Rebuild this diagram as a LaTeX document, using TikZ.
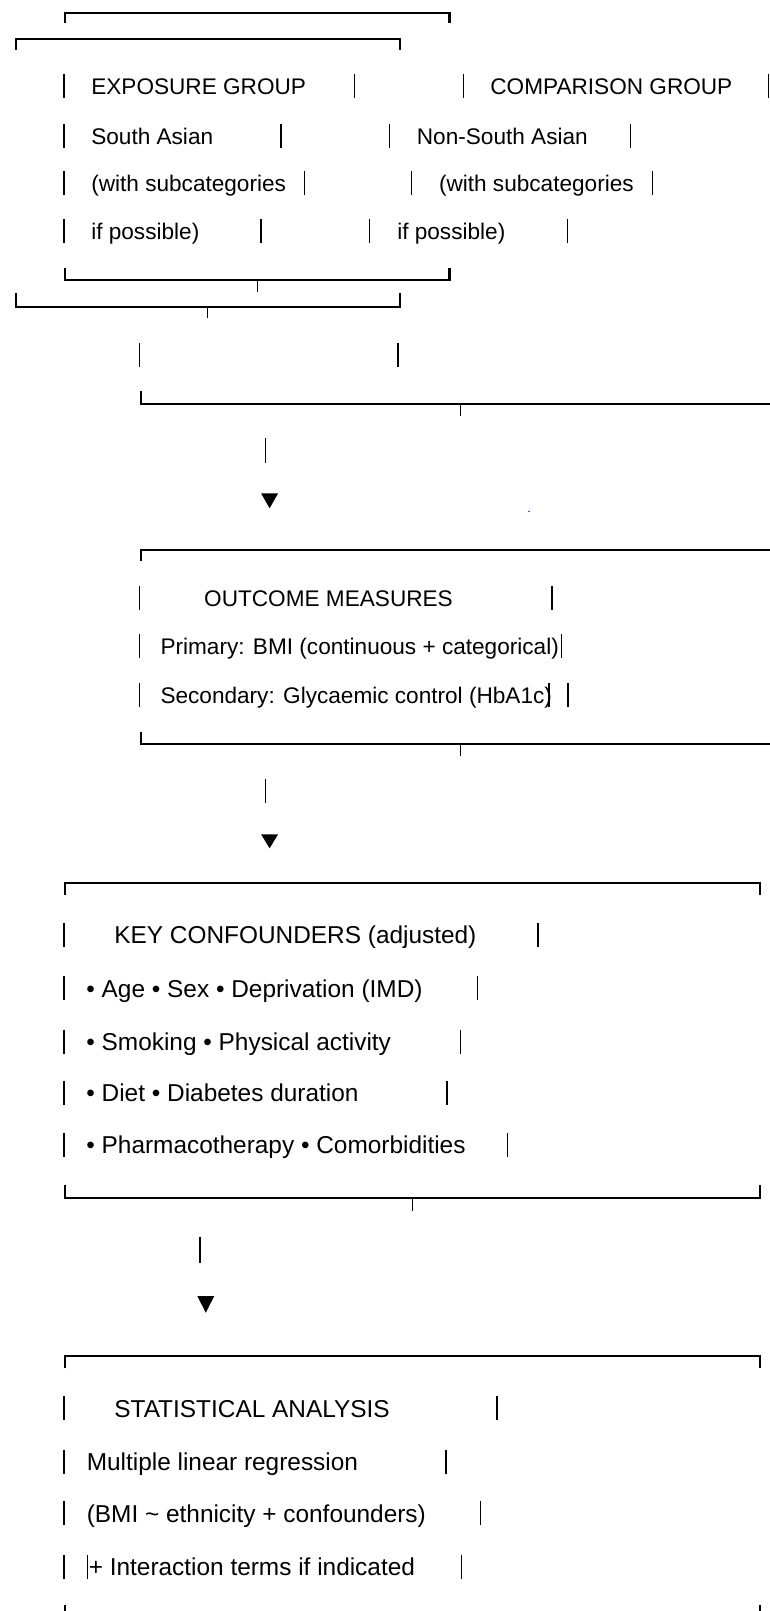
\documentclass[tikz,border=0pt]{standalone}
\usepackage{fontspec}
\setmainfont{Liberation Sans}
\begin{document}
\begin{tikzpicture}[x=0.5pt,y=-0.5pt,
    lbl/.style={anchor=base west,inner sep=0pt,font=\fontsize{11.3}{13}\selectfont},
    lblwide/.style={lbl,font=\fontsize{12.2}{14}\selectfont},
    bar/.style={line width=0.7pt},
    rule/.style={line width=1.1pt}]
  \useasboundingbox (0,0) rectangle (770,1611);
  % group boxes
  \draw[rule] (65.3,23.3) -- (65.3,12.7) -- (449.4,12.7) -- (449.4,23.3);
  \draw[rule] (15.7,50) -- (15.7,39.3) -- (400.3,39.3) -- (400.3,50);
  \node[lbl] (expo) at (90.9,94.1) {EXPOSURE GROUP};
  \node[lbl] (comp) at (490,94.1) {COMPARISON GROUP};
  \node[lbl] (expoa) at (90.9,144.1) {South Asian};
  \node[lbl] (compa) at (416.5,144.1) {Non-South Asian};
  \node[lbl] (expob) at (90.9,191.4) {(with subcategories};
  \node[lbl] (compb) at (438.6,191.4) {(with subcategories};
  \node[lbl] (expoc) at (90.9,239.1) {if possible)};
  \node[lbl] (compc) at (396.9,239.1) {if possible)};
  \draw[bar] (63.9,74) -- ++(0,24) (354.6,74) -- ++(0,24) (463.2,74) -- ++(0,24) (768.7,74) -- ++(0,24);
  \draw[bar] (63.9,124) -- ++(0,24) (281,124) -- ++(0,24) (389.5,124) -- ++(0,24) (630.2,124) -- ++(0,24);
  \draw[bar] (63.9,171.3) -- ++(0,24) (304.5,171.3) -- ++(0,24) (411.6,171.3) -- ++(0,24) (652.3,171.3) -- ++(0,24);
  \draw[bar] (63.9,219) -- ++(0,24) (260.8,219) -- ++(0,24) (369.4,219) -- ++(0,24) (567.3,219) -- ++(0,24);
  \draw[rule] (65.3,268.3) -- (65.3,280) -- (449.4,280) -- (449.4,268.3);
  \draw[bar] (257.4,280) -- (257.4,291.7);
  \draw[rule] (15.7,293.3) -- (15.7,307.3) -- (400.3,307.3) -- (400.3,293.3);
  \draw[bar] (207.3,307.3) -- (207.3,318.3);
  \draw[bar] (139.5,342.5) -- ++(0,24) (397.8,342.5) -- ++(0,24);
  \draw[rule] (141,390.7) -- (141,404.3) -- (770,404.3);
  \draw[bar] (460.7,404.3) -- (460.7,415.7);
  % arrow 1
  \draw[bar] (265.2,438.3) -- (265.2,463.3);
  \fill (261.1,493.3) -- (278.1,493.3) -- (269.6,508.3) -- cycle;
  \fill[blue] (529,511.3) circle (0.8);
  % outcome box
  \draw[rule] (141,560.7) -- (141,550) -- (770,550);
  \node[lbl] (outc) at (203.8,606.4) {OUTCOME MEASURES};
  \node[lbl] (outca) at (160.1,654.1) {Primary: BMI (continuous + categorical)};
  \node[lbl] (outcb) at (160.1,703.1) {Secondary: Glycaemic control (HbA1c)};
  \draw[bar] (139.5,586.3) -- ++(0,24) (552,586.3) -- ++(0,24);
  \draw[bar] (139.5,634) -- ++(0,24) (561.4,634) -- ++(0,24);
  \draw[bar] (139.5,683) -- ++(0,24) (567.8,683) -- ++(0,24);
  \draw[line width=1pt] (549.1,683) -- ++(0,24);
  \draw[rule] (141,731.7) -- (141,744) -- (770,744);
  \draw[bar] (460.7,744) -- (460.7,755.7);
  % arrow 2
  \draw[bar] (265.2,779.3) -- (265.2,803.3);
  \fill (261.1,834.3) -- (278.1,834.3) -- (269.6,848.3) -- cycle;
  % confounders box
  \draw[rule] (65.3,895) -- (65.3,883.3) -- (760.3,883.3) -- (760.3,895);
  \node[lblwide] (conf) at (114,943.7) {KEY CONFOUNDERS (adjusted)};
  \node[lblwide] (confa) at (86,997) {• Age • Sex • Deprivation (IMD)};
  \node[lblwide] (confb) at (86,1050.4) {• Smoking • Physical activity};
  \node[lblwide] (confc) at (86,1101.4) {• Diet • Diabetes duration};
  \node[lblwide] (confd) at (86,1153.7) {• Pharmacotherapy • Comorbidities};
  \draw[bar] (63.9,923) -- ++(0,24) (537.8,923) -- ++(0,24);
  \draw[bar] (63.9,976.3) -- ++(0,24) (477.4,976.3) -- ++(0,24);
  \draw[bar] (63.9,1029.7) -- ++(0,24) (460.2,1029.7) -- ++(0,24);
  \draw[bar] (63.9,1080.7) -- ++(0,24) (447,1080.7) -- ++(0,24);
  \draw[bar] (63.9,1133) -- ++(0,24) (507.4,1133) -- ++(0,24);
  \draw[rule] (65.3,1185) -- (65.3,1198.3) -- (760.3,1198.3) -- (760.3,1185);
  \draw[bar] (412.6,1198.3) -- (412.6,1211);
  % arrow 3
  \draw[bar] (199.9,1236.7) -- (199.9,1263.3);
  \fill (197.3,1296) -- (214.3,1296) -- (205.8,1312.7) -- cycle;
  % analysis box
  \draw[rule] (65.3,1368.3) -- (65.3,1356) -- (760.3,1356) -- (760.3,1368.3);
  \node[lblwide] (stat) at (114,1417) {STATISTICAL ANALYSIS};
  \node[lblwide] (stata) at (86.4,1470.4) {Multiple linear regression};
  \node[lblwide] (statb) at (86.4,1522) {(BMI \textasciitilde{} ethnicity + confounders)};
  \node[lblwide] (statc) at (88.4,1575.4) {+ Interaction terms if indicated};
  \draw[bar] (63.9,1396.3) -- ++(0,24) (497,1396.3) -- ++(0,24);
  \draw[bar] (63.9,1449.7) -- ++(0,24) (446,1449.7) -- ++(0,24);
  \draw[bar] (63.9,1501.3) -- ++(0,24) (480.4,1501.3) -- ++(0,24);
  \draw[bar] (63.9,1554.7) -- ++(0,24) (87.4,1554.7) -- ++(0,24) (461.7,1554.7) -- ++(0,24);
  \draw[rule] (65.3,1605) -- (65.3,1611) (760.3,1605) -- (760.3,1611);
\end{tikzpicture}
\end{document}
